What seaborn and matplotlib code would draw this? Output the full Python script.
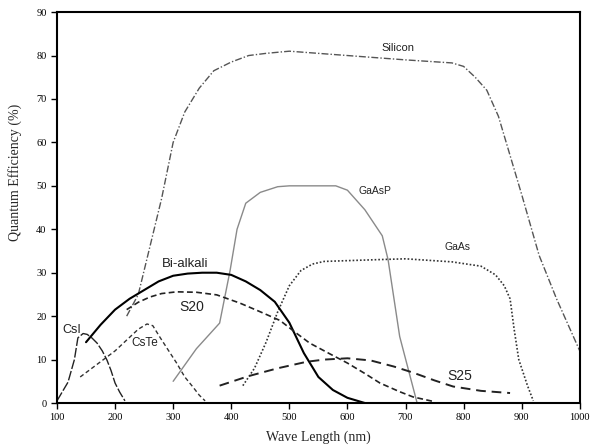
import numpy as np
import pandas as pd
import seaborn as sns
import matplotlib
matplotlib.use("Agg")
import matplotlib.pyplot as plt

# values (wavelength nm, QE %)
si_x = [220, 240, 260, 280, 300, 320, 345, 370, 400, 430, 460, 500, 600, 700, 780, 800, 820, 840, 860, 880, 900, 930, 960, 1000]
si_y = [20, 25, 36, 47, 60, 67, 72.5, 76.5, 78.5, 80, 80.5, 81, 80, 79, 78.3, 77.5, 75, 72, 66, 57, 48, 34, 24, 12]

gaasp_x = [300, 340, 380, 398, 410, 425, 450, 480, 500, 580, 600, 630, 660, 670, 690, 720]
gaasp_y = [5, 12.5, 18.4, 30.5, 40, 46, 48.5, 49.8, 50, 50, 49, 44.5, 38.5, 33, 15.3, 0]

gaas_x = [420, 440, 460, 480, 500, 520, 540, 560, 650, 700, 780, 830, 855, 870, 880, 887, 895, 910, 920]
gaas_y = [4, 8, 14, 21, 27, 30.5, 32, 32.6, 33, 33.2, 32.5, 31.5, 29.5, 27, 24, 17, 10, 4, 0.5]

bialk_x = [150, 175, 200, 225, 250, 275, 300, 325, 350, 375, 400, 425, 450, 475, 500, 525, 550, 575, 600, 630]
bialk_y = [14, 18, 21.5, 24, 26, 28, 29.3, 29.8, 30, 30, 29.5, 28, 26, 23.3, 18.5, 11.5, 6, 3, 1.2, 0]

s20_x = [220, 240, 260, 280, 306, 340, 375, 415, 450, 484, 510, 535, 570, 600, 630, 656, 690, 713, 750]
s20_y = [21.5, 23.2, 24.4, 25.2, 25.6, 25.5, 24.9, 23, 21, 19, 16.3, 13.8, 11.3, 9.2, 6.8, 4.6, 2.6, 1.4, 0.3]

cste_x = [140, 160, 180, 200, 220, 240, 255, 265, 277, 290, 306, 320, 334, 345, 355]
cste_y = [6, 8, 10, 12, 14.5, 17, 18.2, 17.8, 15.2, 12.5, 9.2, 6, 3.7, 1.8, 0.5]

s25_x = [380, 430, 480, 530, 560, 600, 640, 680, 713, 750, 782, 830, 880]
s25_y = [4, 6.2, 8, 9.5, 10, 10.3, 9.8, 8.4, 7, 5.2, 3.8, 2.8, 2.3]

csi_x = [100, 119, 130, 136, 145, 152, 160, 169, 178, 186, 193, 200, 208, 217]
csi_y = [0.5, 4.8, 10, 15, 16, 15.8, 15, 13.8, 12, 9.9, 7.5, 4.6, 2.5, 0.5]

sns.set_style("ticks")
plt.rcParams["font.family"] = ["Liberation Serif", "DejaVu Serif"]

fig, ax = plt.subplots(figsize=(5.91, 4.48), dpi=100)
fig.subplots_adjust(left=0.0964, right=0.981, bottom=0.1004, top=0.973)

sns.lineplot(x=si_x, y=si_y, ax=ax, color="#555555", lw=1.0, linestyle=(0, (5, 1.5, 1, 1.5)))
sns.lineplot(x=gaasp_x, y=gaasp_y, ax=ax, color="#8a8a8a", lw=1.0, linestyle="-")
sns.lineplot(x=gaas_x, y=gaas_y, ax=ax, color="#333333", lw=1.2, linestyle=(0, (1, 1.2)))
sns.lineplot(x=bialk_x, y=bialk_y, ax=ax, color="black", lw=1.5, linestyle="-")
sns.lineplot(x=s20_x, y=s20_y, ax=ax, color="#222222", lw=1.2, linestyle=(0, (3.5, 2)))
sns.lineplot(x=cste_x, y=cste_y, ax=ax, color="#333333", lw=1.0, linestyle=(0, (3, 2)))
sns.lineplot(x=s25_x, y=s25_y, ax=ax, color="#222222", lw=1.4, linestyle=(0, (5, 3)))
sns.lineplot(x=csi_x, y=csi_y, ax=ax, color="#222222", lw=1.0, linestyle=(0, (7, 1.5)))

lab = dict(family=["Liberation Sans", "DejaVu Sans"], ha="center", va="center", color="#222222")
ax.text(687, 81.7, "Silicon", fontsize=8, **lab)
ax.text(647, 48.8, "GaAsP", fontsize=7.5, **lab)
ax.text(790, 35.9, "GaAs", fontsize=7.5, **lab)
ax.text(320, 32, "Bi-alkali", fontsize=9.5, **lab)
ax.text(332, 22, "S20", fontsize=10, **lab)
ax.text(126, 16.8, "CsI", fontsize=9, **lab)
ax.text(251, 13.8, "CsTe", fontsize=8.5, **lab)
ax.text(794, 6.2, "S25", fontsize=10, **lab)

ax.set_xlim(100, 1000)
ax.set_ylim(0, 90)
ax.set_xticks(np.arange(100, 1001, 100))
ax.set_yticks(np.arange(0, 91, 10))
ax.tick_params(direction="out", length=4, width=1.0, labelsize=7.5, colors="black")
for s in ax.spines.values():
    s.set_linewidth(1.5)
    s.set_color("black")
ax.set_xlabel("Wave Length (nm)", fontsize=10, labelpad=6)
ax.set_ylabel("Quantum Efficiency (%)", fontsize=10)
ax.yaxis.set_label_coords(-0.067, 0.59)

fig.savefig("out.png", dpi=100)
